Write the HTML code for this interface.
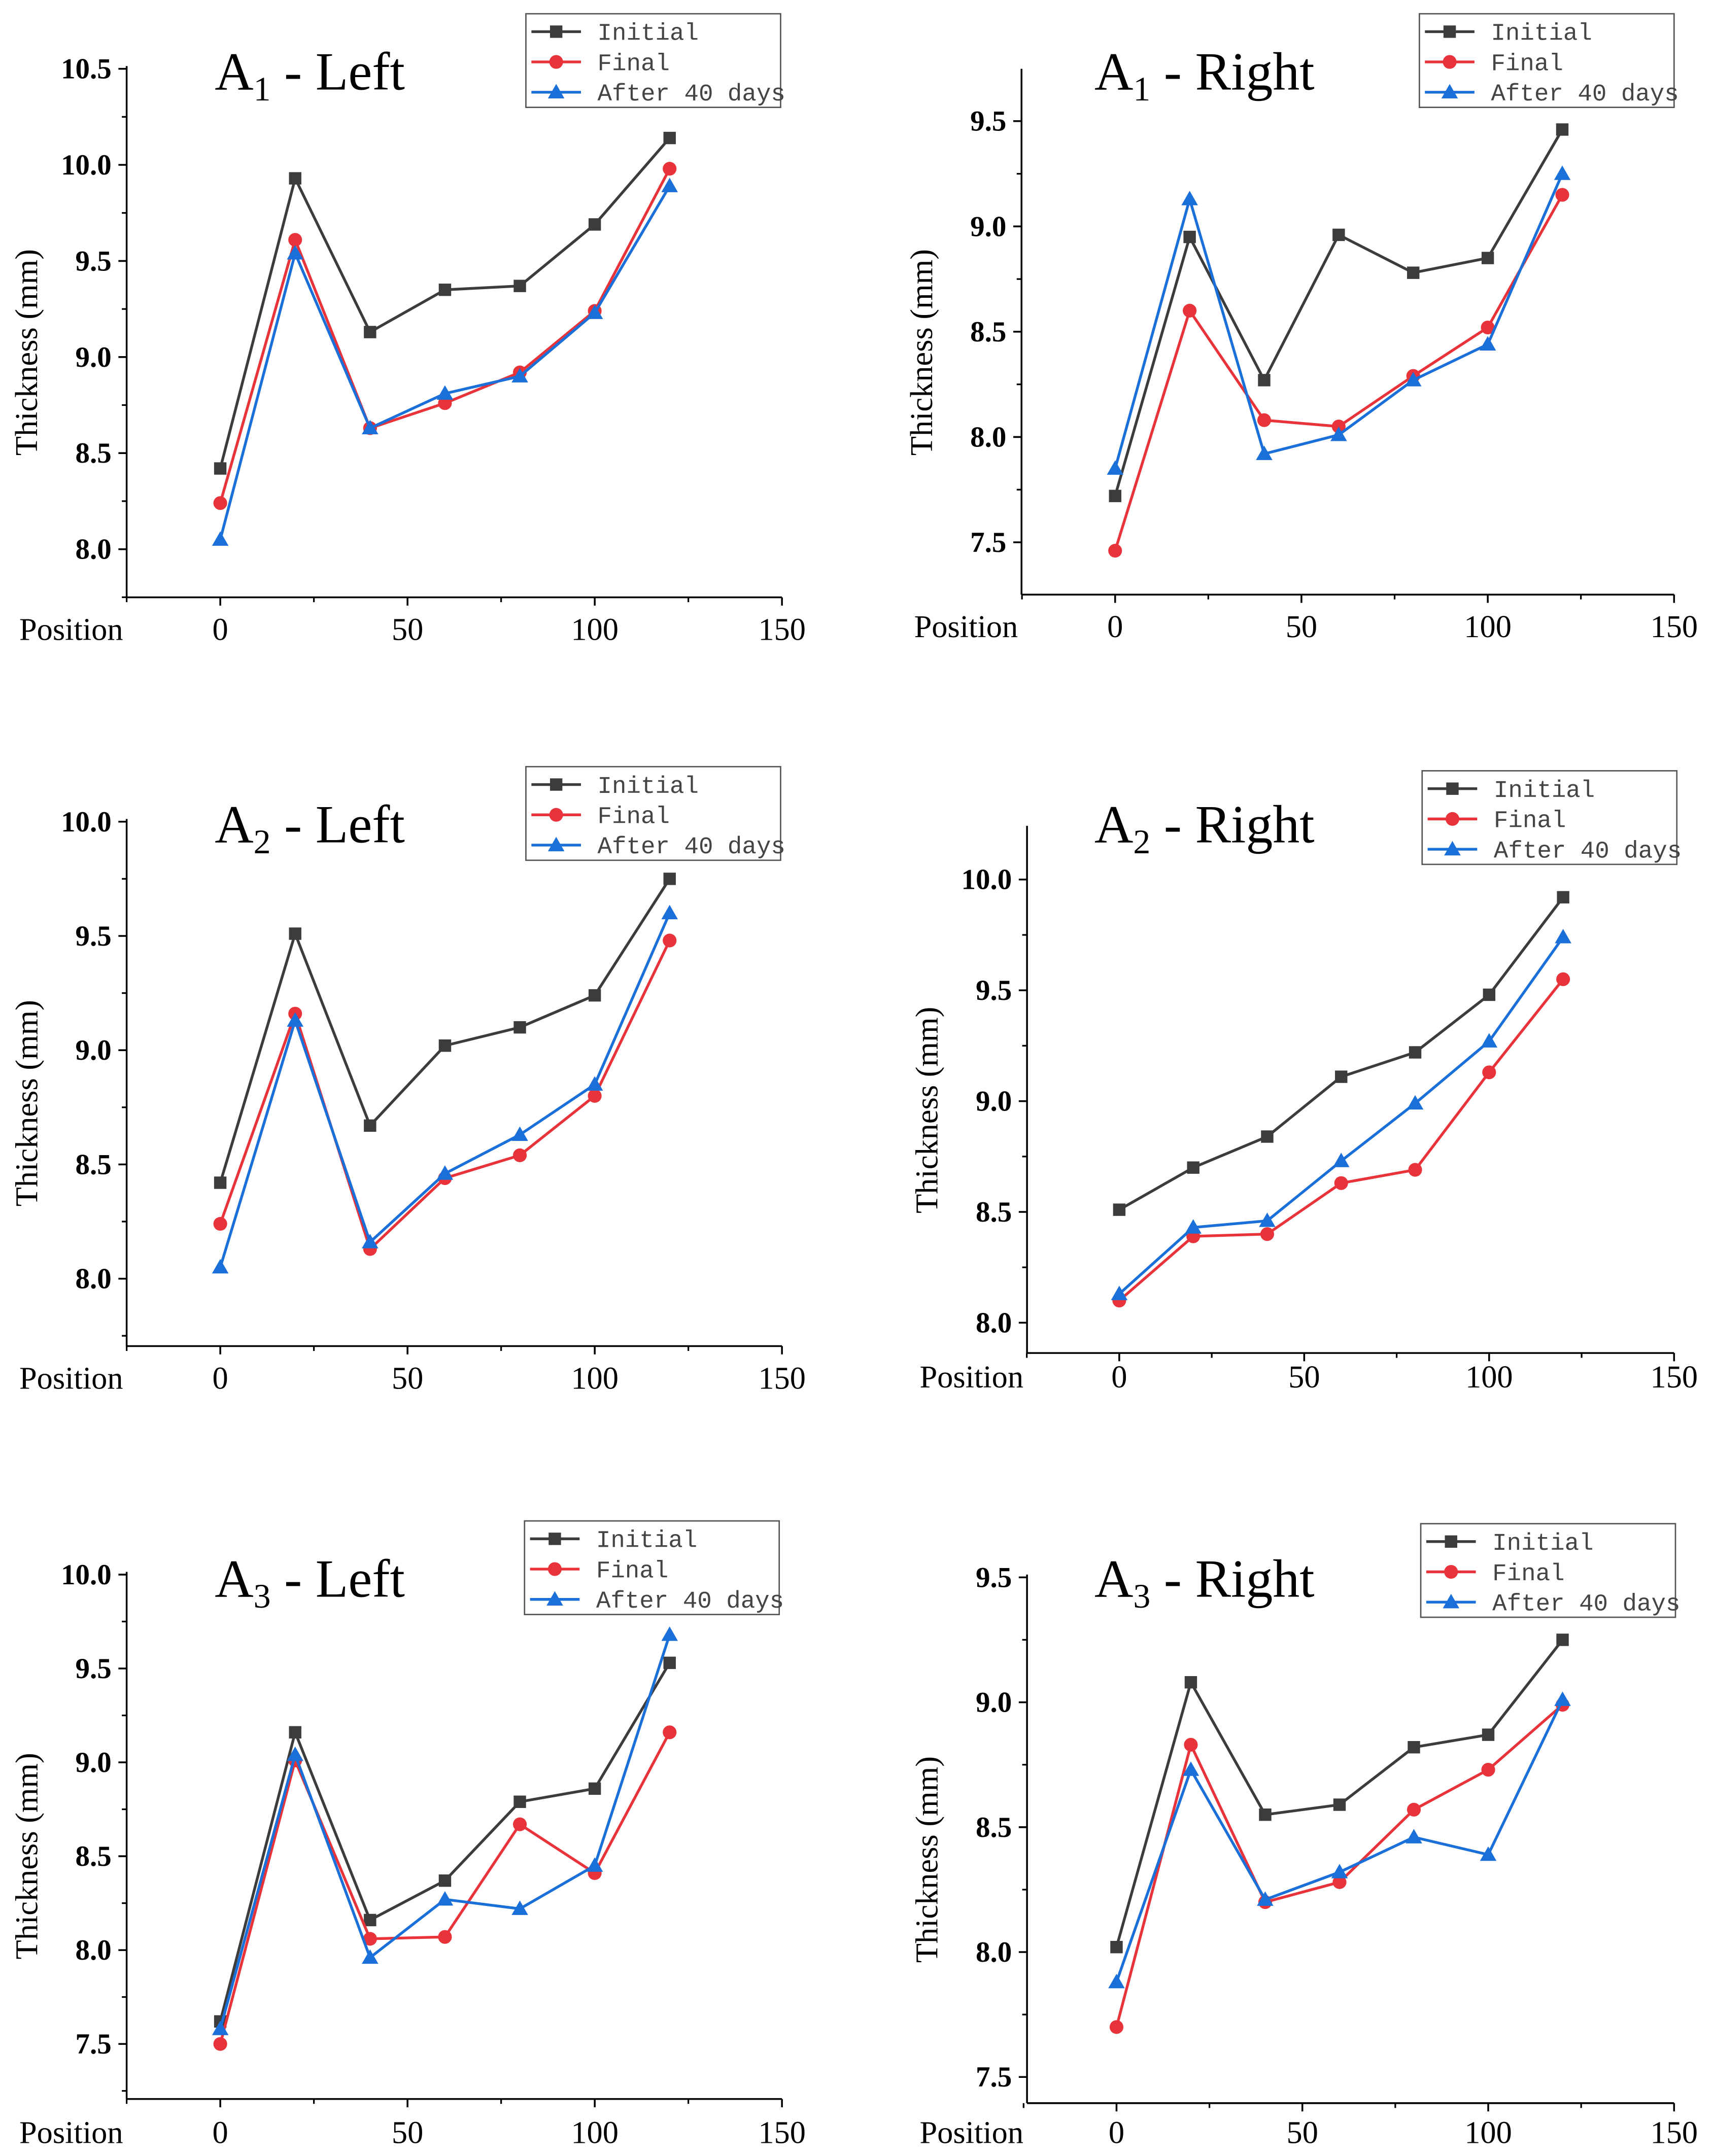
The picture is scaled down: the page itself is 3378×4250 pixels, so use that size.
<!DOCTYPE html>
<html><head><meta charset="utf-8"><style>
html,body{margin:0;padding:0;background:#fff;}
svg{display:block;}
.tick{font-family:"Liberation Serif",serif;font-weight:bold;font-size:21px;fill:#000;}
.ttl{font-family:"Liberation Serif",serif;font-size:23px;fill:#000;}
.head{font-family:"Liberation Serif",serif;font-size:39px;fill:#000;}
.leg{font-family:"Liberation Mono",monospace;font-size:17.5px;fill:#444;}
</style></head><body>
<svg id="chart" xmlns="http://www.w3.org/2000/svg" width="3378" height="4250" viewBox="0 0 1245 1566.4" preserveAspectRatio="none"></svg>
<script>
const positions = [0, 20, 40, 60, 80, 100, 120];
const xTicks = [0, 50, 100, 150];
const seriesNames = ["Initial", "Final", "After 40 days"];
const a1LeftInitial = [8.42, 9.93, 9.13, 9.35, 9.37, 9.69, 10.14];
const a1LeftFinal = [8.24, 9.61, 8.63, 8.76, 8.92, 9.24, 9.98];
const a1LeftAfter = [8.05, 9.54, 8.63, 8.81, 8.90, 9.23, 9.89];
const a1RightInitial = [7.72, 8.95, 8.27, 8.96, 8.78, 8.85, 9.46];
const a1RightFinal = [7.46, 8.60, 8.08, 8.05, 8.29, 8.52, 9.15];
const a1RightAfter = [7.85, 9.13, 7.92, 8.01, 8.27, 8.44, 9.25];
const a2LeftInitial = [8.42, 9.51, 8.67, 9.02, 9.10, 9.24, 9.75];
const a2LeftFinal = [8.24, 9.16, 8.13, 8.44, 8.54, 8.80, 9.48];
const a2LeftAfter = [8.05, 9.13, 8.16, 8.46, 8.63, 8.85, 9.60];
const a2RightInitial = [8.51, 8.70, 8.84, 9.11, 9.22, 9.48, 9.92];
const a2RightFinal = [8.10, 8.39, 8.40, 8.63, 8.69, 9.13, 9.55];
const a2RightAfter = [8.13, 8.43, 8.46, 8.73, 8.99, 9.27, 9.74];
const a3LeftInitial = [7.62, 9.16, 8.16, 8.37, 8.79, 8.86, 9.53];
const a3LeftFinal = [7.50, 9.01, 8.06, 8.07, 8.67, 8.41, 9.16];
const a3LeftAfter = [7.58, 9.04, 7.96, 8.27, 8.22, 8.45, 9.68];
const a3RightInitial = [8.02, 9.08, 8.55, 8.59, 8.82, 8.87, 9.25];
const a3RightFinal = [7.70, 8.83, 8.20, 8.28, 8.57, 8.73, 8.99];
const a3RightAfter = [7.88, 8.73, 8.21, 8.32, 8.46, 8.39, 9.01];
const a1LeftYTicks = ["8.0","8.5","9.0","9.5","10.0","10.5"];
const a1RightYTicks = ["7.5","8.0","8.5","9.0","9.5"];
const a2LeftYTicks = ["8.0","8.5","9.0","9.5","10.0"];
const a2RightYTicks = ["8.0","8.5","9.0","9.5","10.0"];
const a3LeftYTicks = ["7.5","8.0","8.5","9.0","9.5","10.0"];
const a3RightYTicks = ["7.5","8.0","8.5","9.0","9.5"];

const panels = [
 {name:"a1-left", sub:"1", side:"Left", ax:92, ax2:568, x0:160, x150:568, top:48, bot:434, vA:8.0, pA:399, vB:10.5, pB:50, ticks:a1LeftYTicks, data:[a1LeftInitial,a1LeftFinal,a1LeftAfter], leg:[382,10], tx:156, ty:65, posY:465},
 {name:"a1-right", sub:"1", side:"Right", ax:742, ax2:1216, x0:810, x150:1216, top:50, bot:432, vA:7.5, pA:394, vB:9.5, pB:88, ticks:a1RightYTicks, data:[a1RightInitial,a1RightFinal,a1RightAfter], leg:[1031,10], tx:795, ty:65, posY:463},
 {name:"a2-left", sub:"2", side:"Left", ax:92, ax2:568, x0:160, x150:568, top:595, bot:978, vA:8.0, pA:929, vB:10.0, pB:597, ticks:a2LeftYTicks, data:[a2LeftInitial,a2LeftFinal,a2LeftAfter], leg:[382,557], tx:156, ty:612, posY:1009},
 {name:"a2-right", sub:"2", side:"Right", ax:746, ax2:1216, x0:813, x150:1216, top:600, bot:983, vA:8.0, pA:961, vB:10.0, pB:639, ticks:a2RightYTicks, data:[a2RightInitial,a2RightFinal,a2RightAfter], leg:[1033,560], tx:795, ty:612, posY:1008},
 {name:"a3-left", sub:"3", side:"Left", ax:92, ax2:568, x0:160, x150:568, top:1142, bot:1525, vA:7.5, pA:1485, vB:10.0, pB:1144, ticks:a3LeftYTicks, data:[a3LeftInitial,a3LeftFinal,a3LeftAfter], leg:[381,1105], tx:156, ty:1160, posY:1557},
 {name:"a3-right", sub:"3", side:"Right", ax:746, ax2:1216, x0:811, x150:1216, top:1144, bot:1528, vA:7.5, pA:1509, vB:9.5, pB:1146, ticks:a3RightYTicks, data:[a3RightInitial,a3RightFinal,a3RightAfter], leg:[1032,1107], tx:795, ty:1160, posY:1557}
];
const colors = ["#3c3c3c","#e8333a","#1a6fd8"];
const NS = "http://www.w3.org/2000/svg";
const svg = document.getElementById("chart");
function mk(tag, attrs, parent, text){
  const e = document.createElementNS(NS, tag);
  for (const k in attrs) e.setAttribute(k, attrs[k]);
  if (text !== undefined) e.textContent = text;
  parent.appendChild(e);
  return e;
}
function marker(g, kind, x, y, c){
  let m;
  if (kind===0) m = mk("rect",{x:x-4.5,y:y-4.5,width:9,height:9,fill:c},g);
  else if (kind===1) m = mk("circle",{cx:x,cy:y,r:5,fill:c},g);
  else m = mk("polygon",{points:`${x},${y-6} ${x+6},${y+4.5} ${x-6},${y+4.5}`,fill:c},g);
  return m;
}
panels.forEach(p=>{
  const g = mk("g",{},svg);
  
  
  const xs = v => p.x0 + v*(p.x150-p.x0)/150;
  const ys = v => p.pA + (v-p.vA)*(p.pB-p.pA)/(p.vB-p.vA);
  const ya = mk("line",{x1:p.ax,y1:p.top,x2:p.ax,y2:p.bot,stroke:"#000","stroke-width":1.3},g);
  
  
  const xa = mk("line",{x1:p.ax,y1:p.bot,x2:p.ax2,y2:p.bot,stroke:"#000","stroke-width":1.3},g);
  
  
  p.ticks.forEach(t=>{
    const v = parseFloat(t), y = ys(v);
    mk("line",{x1:p.ax-6,y1:y,x2:p.ax,y2:y,stroke:"#000","stroke-width":1.3},g);
    const my = ys(v+0.25);
    if (my > p.top) mk("line",{x1:p.ax-3.5,y1:my,x2:p.ax,y2:my,stroke:"#000","stroke-width":1.2},g);
    const lb = mk("text",{x:p.ax-11,y:y+7,"text-anchor":"end",class:"tick"},g,t);
    
    
  });
  const mlow = ys(parseFloat(p.ticks[0])-0.25);
  if (mlow < p.bot) mk("line",{x1:p.ax-3.5,y1:mlow,x2:p.ax,y2:mlow,stroke:"#000","stroke-width":1.2},g);
  xTicks.forEach(t=>{
    const x = xs(t);
    mk("line",{x1:x,y1:p.bot,x2:x,y2:p.bot+6,stroke:"#000","stroke-width":1.3},g);
    const lb = mk("text",{x:x,y:p.posY,"text-anchor":"middle",class:"ttl"},g,String(t));
    
    
  });
  [-25,25,75,125].forEach(t=>{
    const x = xs(t);
    mk("line",{x1:x,y1:p.bot,x2:x,y2:p.bot+3.5,stroke:"#000","stroke-width":1.2},g);
  });
  const pos = mk("text",{x:p.ax-78,y:p.posY,class:"ttl"},g,"Position");
  
  
  const cy = (p.top+p.bot)/2 + 15;
  const yt = mk("text",{x:p.ax-65,y:cy,"text-anchor":"middle",class:"ttl",transform:`rotate(-90 ${p.ax-65} ${cy})`},g,"Thickness (mm)");
  
  
  const ti = mk("text",{x:p.tx,y:p.ty,class:"head"},g);
  
  
  mk("tspan",{},ti,"A");
  mk("tspan",{dy:8,"font-size":"25px"},ti,p.sub);
  mk("tspan",{dy:-8},ti," - "+p.side);
  p.data.forEach((arr,k)=>{
    const sg = mk("g",{},g);
    
    
    const pts = arr.map((v,i)=>xs(positions[i])+","+ys(v)).join(" ");
    mk("polyline",{points:pts,fill:"none",stroke:colors[k],"stroke-width":2},sg);
    arr.forEach((v,i)=>{
      const m = marker(sg,k,xs(positions[i]),ys(v),colors[k]);
      
      
    });
  });
  const lg = mk("g",{},g);
  
  
  const [lx,ly] = p.leg;
  mk("rect",{x:lx,y:ly,width:185,height:68,fill:"#fff",stroke:"#555","stroke-width":1},lg);
  seriesNames.forEach((n,k)=>{
    const yy = ly+13+k*22;
    const en = mk("g",{},lg);
    
    
    mk("line",{x1:lx+4,y1:yy,x2:lx+40,y2:yy,stroke:colors[k],"stroke-width":2},en);
    marker(en,k,lx+22,yy,colors[k]);
    mk("text",{x:lx+52,y:yy+6,class:"leg"},en,n);
  });
});
</script>
</body></html>
